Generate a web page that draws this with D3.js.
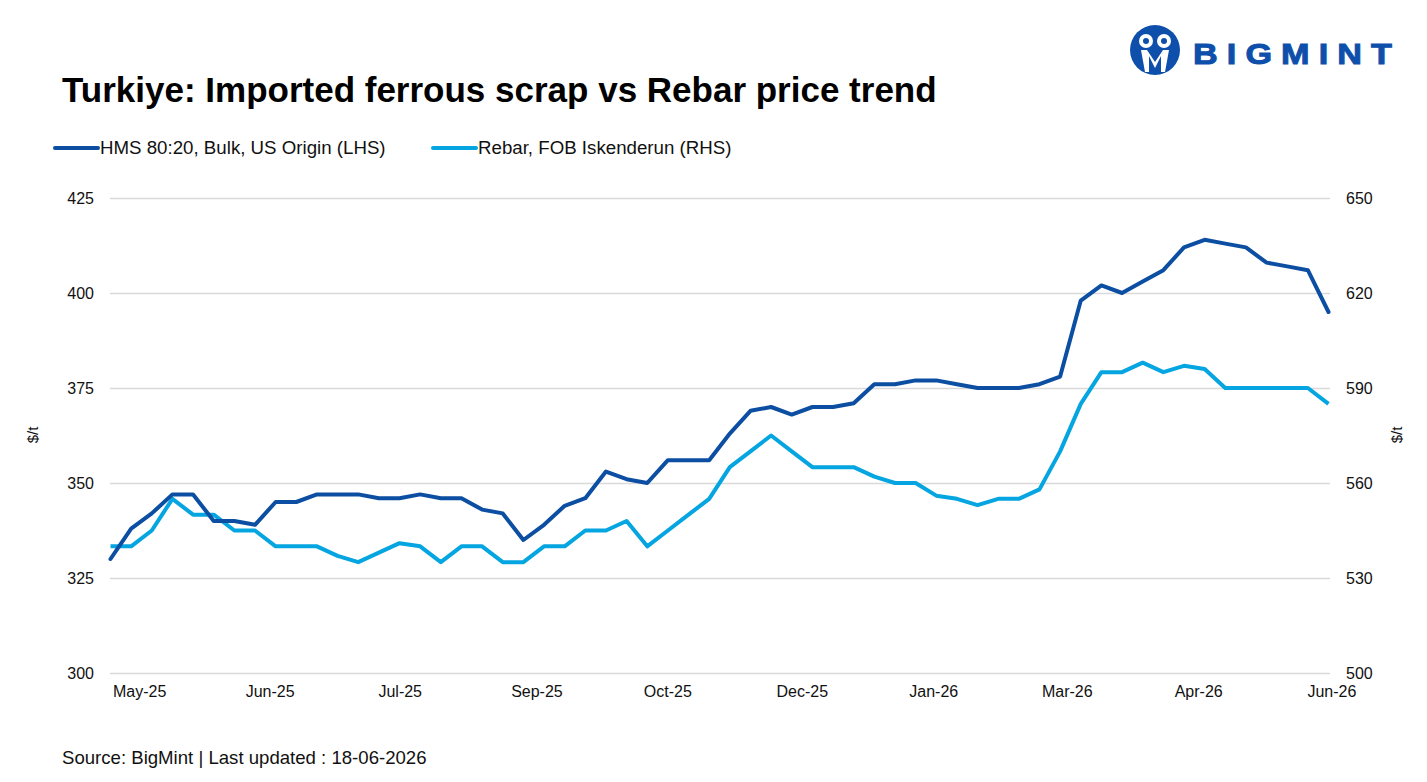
<!DOCTYPE html>
<html>
<head>
<meta charset="utf-8">
<script src="https://cdn.jsdelivr.net/npm/d3@7"></script>
<style>
  body { margin: 0; background: #fff; }
  svg { display: block; font-family: "Liberation Sans", Arial, sans-serif; }
</style>
</head>
<body>
<svg id="chart" width="1427" height="782"></svg>
<script>
// weekly dates (Thursdays)
var weeks = [
  '2025-05-01','2025-05-08','2025-05-15','2025-05-22','2025-05-29','2025-06-05','2025-06-12','2025-06-19',
  '2025-06-26','2025-07-03','2025-07-10','2025-07-17','2025-07-24','2025-07-31','2025-08-07','2025-08-14',
  '2025-08-21','2025-08-28','2025-09-04','2025-09-11','2025-09-18','2025-09-25','2025-10-02','2025-10-09',
  '2025-10-16','2025-10-23','2025-10-30','2025-11-06','2025-11-13','2025-11-20','2025-11-27','2025-12-04',
  '2025-12-11','2025-12-18','2025-12-25','2026-01-01','2026-01-08','2026-01-15','2026-01-22','2026-01-29',
  '2026-02-05','2026-02-12','2026-02-19','2026-02-26','2026-03-05','2026-03-12','2026-03-19','2026-03-26',
  '2026-04-02','2026-04-09','2026-04-16','2026-04-23','2026-04-30','2026-05-07','2026-05-14','2026-05-21',
  '2026-05-28','2026-06-04','2026-06-11','2026-06-18'
];

// HMS 80:20, Bulk, US Origin ($/t, LHS)
var hms = [
  330, 338, 342, 347, 347, 340, 340, 339, 345, 345, 347, 347, 347, 346, 346, 347,
  346, 346, 343, 342, 335, 339, 344, 346, 353, 351, 350, 356, 356, 356, 363, 369,
  370, 368, 370, 370, 371, 376, 376, 377, 377, 376, 375, 375, 375, 376, 378, 398,
  402, 400, 403, 406, 412, 414, 413, 412, 408, 407, 406, 395
];

// Rebar, FOB Iskenderun ($/t, RHS)
var rebar = [
  540, 540, 545, 555, 550, 550, 545, 545, 540, 540, 540, 537, 535, 538, 541, 540,
  535, 540, 540, 535, 535, 540, 540, 545, 545, 548, 540, 545, 550, 555, 565, 570,
  575, 570, 565, 565, 565, 562, 560, 560, 556, 555, 553, 555, 555, 558, 570, 585,
  595, 595, 598, 595, 597, 596, 590, 590, 590, 590, 590, 585
];

var tickDates = ['2025-05-01','2025-06-15','2025-07-30','2025-09-13','2025-10-28',
                 '2025-12-12','2026-01-26','2026-03-12','2026-04-26','2026-06-10'];
var leftTicks = [300, 325, 350, 375, 400, 425];
var rightTicks = [500, 530, 560, 590, 620, 650];

var seriesNames = ['HMS 80:20, Bulk, US Origin (LHS)', 'Rebar, FOB Iskenderun (RHS)'];

var darkBlue = '#0b4ea2';
var lightBlue = '#04a5e0';

var parseDate = d3.timeParse('%Y-%m-%d');
var fmt = d3.timeFormat('%b-%y');

var plotLeft = 110.5, plotRight = 1328.5, plotTop = 198, plotBottom = 673;

var svg = d3.select('#chart');

var x = d3.scaleTime()
    .domain([parseDate(weeks[0]), parseDate(weeks[weeks.length - 1])])
    .range([plotLeft, plotRight]);

var yL = d3.scaleLinear().domain([300, 425]).range([plotBottom, plotTop]);
var yR = d3.scaleLinear().domain([500, 650]).range([plotBottom, plotTop]);

// left axis + gridlines
var gL = svg.append('g')
    .attr('transform', 'translate(110,0)')
    .call(d3.axisLeft(yL).tickValues(leftTicks).tickSize(-1220).tickPadding(16));
gL.select('.domain').remove();
gL.selectAll('line').attr('stroke', '#d9d9d9').attr('stroke-width', 1.5);
gL.selectAll('text').attr('font-size', 16).attr('fill', '#111');

// right axis
var gR = svg.append('g')
    .attr('transform', 'translate(1330,0)')
    .call(d3.axisRight(yR).tickValues(rightTicks).tickSize(0).tickPadding(16));
gR.select('.domain').remove();
gR.selectAll('text').attr('font-size', 16).attr('fill', '#111');

// bottom axis
var gB = svg.append('g')
    .attr('transform', 'translate(0,' + plotBottom + ')')
    .call(d3.axisBottom(x).tickValues(tickDates.map(parseDate)).tickFormat(fmt).tickSize(0).tickPadding(13));
gB.select('.domain').remove();
gB.selectAll('text').attr('font-size', 16).attr('fill', '#111').attr('text-anchor', 'start').attr('dx', 2);

// lines
var lineL = d3.line()
    .x(function(d, i){ return x(parseDate(weeks[i])); })
    .y(function(d){ return yL(d); });
var lineR = d3.line()
    .x(function(d, i){ return x(parseDate(weeks[i])); })
    .y(function(d){ return yR(d); });

svg.append('path')
    .datum(rebar)
    .attr('d', lineR)
    .attr('fill', 'none')
    .attr('stroke', lightBlue)
    .attr('stroke-width', 4)
    .attr('stroke-linejoin', 'round');

svg.append('path')
    .datum(hms)
    .attr('d', lineL)
    .attr('fill', 'none')
    .attr('stroke', darkBlue)
    .attr('stroke-width', 4)
    .attr('stroke-linejoin', 'round')
    .attr('stroke-linecap', 'round');

// axis titles
svg.append('text')
    .attr('transform', 'translate(38,435) rotate(-90)')
    .attr('text-anchor', 'middle')
    .attr('font-size', 15)
    .attr('fill', '#111')
    .text('$/t');
svg.append('text')
    .attr('transform', 'translate(1402,435) rotate(-90)')
    .attr('text-anchor', 'middle')
    .attr('font-size', 15)
    .attr('fill', '#111')
    .text('$/t');

// title
svg.append('text')
    .attr('x', 62)
    .attr('y', 102)
    .attr('font-size', 35)
    .attr('font-weight', 'bold')
    .attr('fill', '#000')
    .text('Turkiye: Imported ferrous scrap vs Rebar price trend');

// legend
var legend = svg.append('g');
var legendX = [55, 433];
[darkBlue, lightBlue].forEach(function(c, i){
    legend.append('line')
        .attr('x1', legendX[i]).attr('x2', legendX[i] + 43)
        .attr('y1', 148).attr('y2', 148)
        .attr('stroke', c).attr('stroke-width', 4).attr('stroke-linecap', 'round');
    legend.append('text')
        .attr('x', legendX[i] + 45)
        .attr('y', 154)
        .attr('font-size', 18.7)
        .attr('fill', '#111')
        .text(seriesNames[i]);
});

// source
svg.append('text')
    .attr('x', 62)
    .attr('y', 764)
    .attr('font-size', 18.6)
    .attr('fill', '#111')
    .text('Source: BigMint | Last updated : 18-06-2026');

// logo
var logo = svg.append('g').attr('transform', 'translate(1155,50)');
logo.append('circle').attr('r', 25).attr('fill', '#0d4fab');
logo.append('circle').attr('cx', -9).attr('cy', -9).attr('r', 7).attr('fill', '#fff');
logo.append('circle').attr('cx', 9).attr('cy', -9).attr('r', 7).attr('fill', '#fff');
logo.append('circle').attr('cx', -9).attr('cy', -9).attr('r', 3).attr('fill', '#0d4fab');
logo.append('circle').attr('cx', 9).attr('cy', -9).attr('r', 3).attr('fill', '#0d4fab');
logo.append('path')
    .attr('d', 'M-14,0 L-10,22 L-6,22 L-6,6 L0,18 L6,6 L6,22 L10,22 L14,0 L8,0 L0,12 L-8,0 Z')
    .attr('fill', '#fff');
svg.append('text')
    .attr('x', 1193)
    .attr('y', 64)
    .attr('font-size', 30)
    .attr('font-weight', 'bold')
    .attr('fill', '#0d4fab')
    .attr('stroke', '#0d4fab')
    .attr('stroke-width', 1)
    .attr('letter-spacing', 8)
    .attr('textLength', 208)
    .attr('lengthAdjust', 'spacingAndGlyphs')
    .text('BIGMINT');
</script>
</body>
</html>
